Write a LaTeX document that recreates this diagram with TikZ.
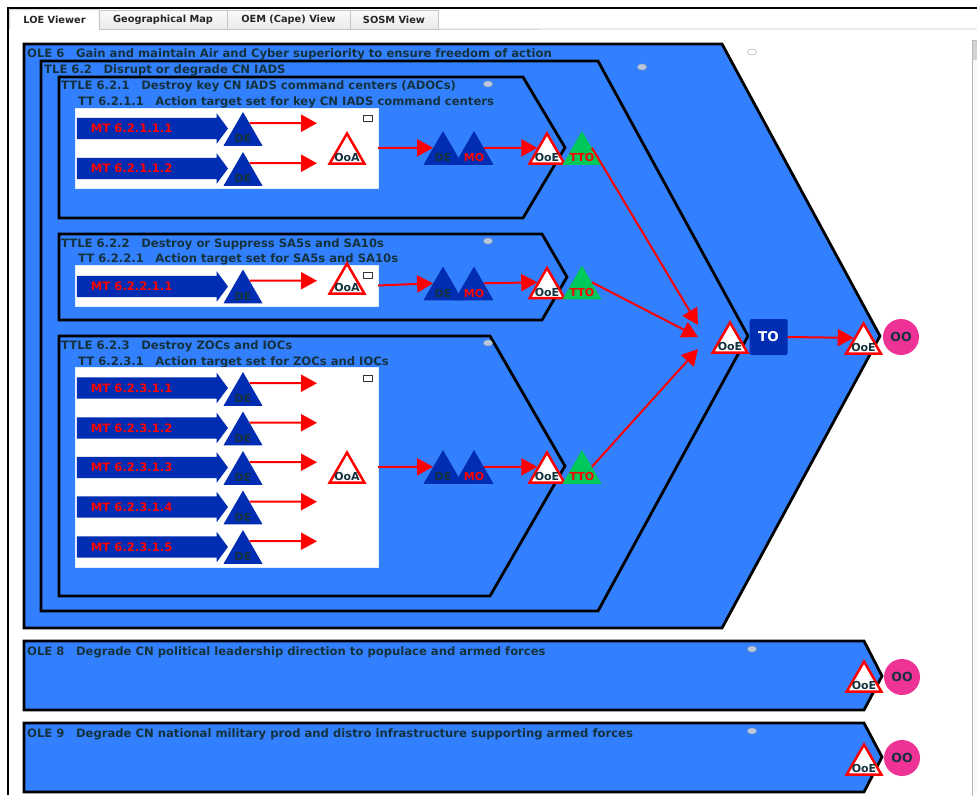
\documentclass[tikz,border=0pt]{standalone}
\usepackage{fontspec}
\setmainfont{DejaVu Sans}
\usetikzlibrary{shapes.geometric,shapes.arrows,arrows.meta}
\definecolor{lanefill}{RGB}{51,128,255}
\definecolor{mtblue}{RGB}{0,45,178}
\definecolor{ttogreen}{RGB}{0,200,90}
\definecolor{oopink}{RGB}{238,50,150}
\definecolor{ink}{RGB}{20,50,62}
\definecolor{knobgray}{RGB}{185,200,225}
\tikzset{
  lane/.style={draw=black, line width=2.8pt, fill=lanefill},
  lanetitle/.style={anchor=base west, inner sep=0pt, text=ink, font=\bfseries\fontsize{11.6}{13}\selectfont},
  knob/.style={ellipse, draw=gray!70, fill=knobgray, minimum width=9pt, minimum height=6pt, inner sep=0pt},
  ttbox/.style={rectangle, fill=white, draw=white!85!lanefill, inner sep=0pt, minimum width=303pt},
  minbox/.style={rectangle, draw=black!80, fill=white, line width=0.8pt, minimum width=9pt, minimum height=6pt, inner sep=0pt},
  mtarrow/.style={single arrow, fill=mtblue, single arrow head extend=4.5pt, single arrow tip angle=107, minimum height=151pt, inner xsep=0pt, inner ysep=10.5pt},
  mtlabel/.style={anchor=west, xshift=14pt, inner sep=0pt, text=red, font=\bfseries\fontsize{11.6}{13}\selectfont},
  detri/.style={regular polygon, regular polygon sides=3, fill=mtblue, minimum size=45pt, inner sep=0pt},
  ttotri/.style={regular polygon, regular polygon sides=3, fill=ttogreen, minimum size=45pt, inner sep=0pt},
  ootri/.style={regular polygon, regular polygon sides=3, fill=white, draw=red, line width=2.5pt, minimum size=40pt, inner sep=0pt},
  trilabel/.style={yshift=-4pt, inner sep=0pt, text=ink, font=\bfseries\fontsize{11}{12}\selectfont},
  tobox/.style={rectangle, rounded corners=1.5pt, fill=mtblue, text=white, minimum width=38pt, minimum height=36pt, inner sep=0pt, font=\bfseries\fontsize{13.5}{14}\selectfont},
  oocircle/.style={circle, fill=oopink, text=ink, minimum size=36pt, inner sep=0pt, font=\bfseries\fontsize{12.5}{13}\selectfont},
  hit/.style={-{Triangle[length=16pt,width=17pt]}, red, line width=2pt},
  tabon/.style={rectangle, fill=white, minimum height=19pt, inner sep=0pt, text=black!85, font=\bfseries\fontsize{9.8}{11}\selectfont},
  taboff/.style={tabon, draw=gray!45, top color=gray!4, bottom color=gray!16},
  tabedge/.style={draw=gray!45, line width=0.8pt}
}
\begin{document}
\begin{tikzpicture}[x=1pt, y=-1pt]
  \useasboundingbox (0,0) rectangle (977,795);
  \draw[line width=2pt] (977,8) -- (8,8) -- (8,795);
  \draw[gray!55, fill=gray!5] (972,40) rectangle (980,797);
  \fill[gray!35] (973,41) rectangle (977,60);

  \coordinate (tabend) at (977,29);
  \node[tabon, minimum width=89pt] (tloe) at (54.5,19.5) {LOE Viewer};
  \draw[tabedge] (tloe.south west) -- (tloe.north west) -- (tloe.north east) -- (tloe.south east) -- (tabend);
  \node[taboff, minimum width=128pt] (tgeo) at (163,19.5) {Geographical Map};
  \node[taboff, minimum width=123pt] (toem) at (288.5,19.5) {OEM (Cape) View};
  \node[taboff, minimum width=88pt] (tsosm) at (394,19.5) {SOSM View};

  \draw[lane] (24,44) -- (722,44) -- (880,336) -- (722,628) -- (24,628) -- cycle;
  \draw[lane] (41,61) -- (598,61) -- (748,336) -- (598,611) -- (41,611) -- cycle;
  \draw[lane] (59,77) -- (523,77) -- (565,147.5) -- (523,218) -- (59,218) -- cycle;
  \draw[lane] (59,234) -- (542,234) -- (567,277) -- (542,320) -- (59,320) -- cycle;
  \draw[lane] (59,336) -- (490,336) -- (565,466) -- (490,596) -- (59,596) -- cycle;
  \draw[lane] (24,641) -- (864,641) -- (882,676) -- (864,710) -- (24,710) -- cycle;
  \draw[lane] (24,723) -- (864,723) -- (882,757) -- (864,792) -- (24,792) -- cycle;

  \node[knob, fill=white] (k6) at (752,52) {};
  \node[knob] (k62) at (642,67) {};
  \node[knob] (k621) at (488,84) {};
  \node[knob] (k622) at (488,241) {};
  \node[knob] (k623) at (488,343) {};
  \node[knob] (k8) at (752,649) {};
  \node[knob] (k9) at (752,731) {};

  \node[lanetitle] (ole6) at (27,57) {OLE 6\quad Gain and maintain Air and Cyber superiority to ensure freedom of action};
  \node[lanetitle] (tle62) at (44,73.5) {TLE 6.2\quad Disrupt or degrade CN IADS};
  \node[lanetitle] (ttle621) at (61,89) {TTLE 6.2.1\quad Destroy key CN IADS command centers (ADOCs)};
  \node[lanetitle] (tt6211) at (78,105) {TT 6.2.1.1\quad Action target set for key CN IADS command centers};
  \node[lanetitle] (ttle622) at (61,247) {TTLE 6.2.2\quad Destroy or Suppress SA5s and SA10s};
  \node[lanetitle] (tt6221) at (78,262) {TT 6.2.2.1\quad Action target set for SA5s and SA10s};
  \node[lanetitle] (ttle623) at (61,349) {TTLE 6.2.3\quad Destroy ZOCs and IOCs};
  \node[lanetitle] (tt6231) at (78,365) {TT 6.2.3.1\quad Action target set for ZOCs and IOCs};
  \node[lanetitle] (ole8) at (27,655) {OLE 8\quad Degrade CN political leadership direction to populace and armed forces};
  \node[lanetitle] (ole9) at (27,737) {OLE 9\quad Degrade CN national military prod and distro infrastructure supporting armed forces};

  \node[ttbox, minimum height=80pt] (tt1) at (226.5,148) {};
  \node[ttbox, minimum height=41pt] (tt2) at (226.5,285.5) {};
  \node[ttbox, minimum height=200pt] (tt3) at (226.5,467) {};
  \node[minbox] (m1) at (368,118) {};
  \node[minbox] (m2) at (368,275) {};
  \node[minbox] (m3) at (368,378) {};

  \node[mtarrow, label={[mtlabel]180:MT 6.2.1.1.1}] (mt11) at (148.5,128.5) {};
  \node[mtarrow, label={[mtlabel]180:MT 6.2.1.1.2}] (mt12) at (148.5,168.5) {};
  \node[mtarrow, label={[mtlabel]180:MT 6.2.2.1.1}] (mt21) at (148.5,286.5) {};
  \node[mtarrow, label={[mtlabel]180:MT 6.2.3.1.1}] (mt31) at (148.5,388) {};
  \node[mtarrow, label={[mtlabel]180:MT 6.2.3.1.2}] (mt32) at (148.5,428) {};
  \node[mtarrow, label={[mtlabel]180:MT 6.2.3.1.3}] (mt33) at (148.5,467.5) {};
  \node[mtarrow, label={[mtlabel]180:MT 6.2.3.1.4}] (mt34) at (148.5,507) {};
  \node[mtarrow, label={[mtlabel]180:MT 6.2.3.1.5}] (mt35) at (148.5,547) {};

  \node[detri, label={[trilabel]center:DE}] (d11) at (243,134.5) {};
  \node[detri, label={[trilabel]center:DE}] (d12) at (243,174.5) {};
  \node[detri, label={[trilabel]center:DE}] (d21) at (243,292) {};
  \node[detri, label={[trilabel]center:DE}] (d31) at (243,394.5) {};
  \node[detri, label={[trilabel]center:DE}] (d32) at (243,434) {};
  \node[detri, label={[trilabel]center:DE}] (d33) at (243,473.5) {};
  \node[detri, label={[trilabel]center:DE}] (d34) at (243,513) {};
  \node[detri, label={[trilabel]center:DE}] (d35) at (243,552.5) {};

  \coordinate (x11) at (317,123.25);
  \coordinate (x12) at (317,163.25);
  \coordinate (x21) at (317,280.75);
  \coordinate (x31) at (317,383.25);
  \coordinate (x32) at (317,422.75);
  \coordinate (x33) at (317,462.25);
  \coordinate (x34) at (317,501.75);
  \coordinate (x35) at (317,541.25);

  \node[ootri, label={[trilabel]center:OoA}] (ooa1) at (347,153.5) {};
  \node[ootri, label={[trilabel]center:OoA}] (ooa2) at (347,283.5) {};
  \node[ootri, label={[trilabel]center:OoA}] (ooa3) at (347,472.5) {};

  \node[detri, label={[trilabel]center:DE}] (de1) at (443,153.5) {};
  \node[detri, label={[trilabel, text=red]center:MO}] (mo1) at (474,153.5) {};
  \node[ootri, label={[trilabel]center:OoE}] (ooe1) at (547,153.5) {};
  \node[ttotri, label={[trilabel, text=red]center:TTO}] (tto1) at (582,153.5) {};
  \node[detri, label={[trilabel]center:DE}] (de2) at (443,289) {};
  \node[detri, label={[trilabel, text=red]center:MO}] (mo2) at (474,289) {};
  \node[ootri, label={[trilabel]center:OoE}] (ooe2) at (547,288) {};
  \node[ttotri, label={[trilabel, text=red]center:TTO}] (tto2) at (582,288) {};
  \node[detri, label={[trilabel]center:DE}] (de3) at (443,472.5) {};
  \node[detri, label={[trilabel, text=red]center:MO}] (mo3) at (474,472.5) {};
  \node[ootri, label={[trilabel]center:OoE}] (ooe3) at (547,472.5) {};
  \node[ttotri, label={[trilabel, text=red]center:TTO}] (tto3) at (582,472.5) {};

  \coordinate (in1) at (698,325);
  \coordinate (in2) at (698,337);
  \coordinate (in3) at (698,349);
  \node[ootri, label={[trilabel]center:OoE}] (ooeT) at (730,342.5) {};
  \node[tobox] (to) at (768.5,337) {TO};
  \node[ootri, label={[trilabel]center:OoE}] (ooeF) at (863.5,343.5) {};
  \node[oocircle] (oo) at (901,337) {OO};
  \node[ootri, label={[trilabel]center:OoE}] (ooe8) at (864,681.5) {};
  \node[oocircle] (oo8) at (902,677) {OO};
  \node[ootri, label={[trilabel]center:OoE}] (ooe9) at (864,764.5) {};
  \node[oocircle] (oo9) at (902,758) {OO};

  \draw[hit] (d11.60) -- (x11);
  \draw[hit] (d12.60) -- (x12);
  \draw[hit] (d21.60) -- (x21);
  \draw[hit] (d31.60) -- (x31);
  \draw[hit] (d32.60) -- (x32);
  \draw[hit] (d33.60) -- (x33);
  \draw[hit] (d34.60) -- (x34);
  \draw[hit] (d35.60) -- (x35);
  \draw[hit] (tt1.east) -- (de1.150);
  \draw[hit] (tt2.east) -- (de2.150);
  \draw[hit] (tt3.east) -- (de3.150);
  \draw[hit] (mo1.30) -- (ooe1.150);
  \draw[hit] (mo2.30) -- (ooe2.150);
  \draw[hit] (mo3.30) -- (ooe3.150);
  \draw[hit] (tto1.30) -- (in1);
  \draw[hit] (tto2.30) -- (in2);
  \draw[hit] (tto3.30) -- (in3);
  \draw[hit] (to.east) -- (ooeF.150);
\end{tikzpicture}
\end{document}
